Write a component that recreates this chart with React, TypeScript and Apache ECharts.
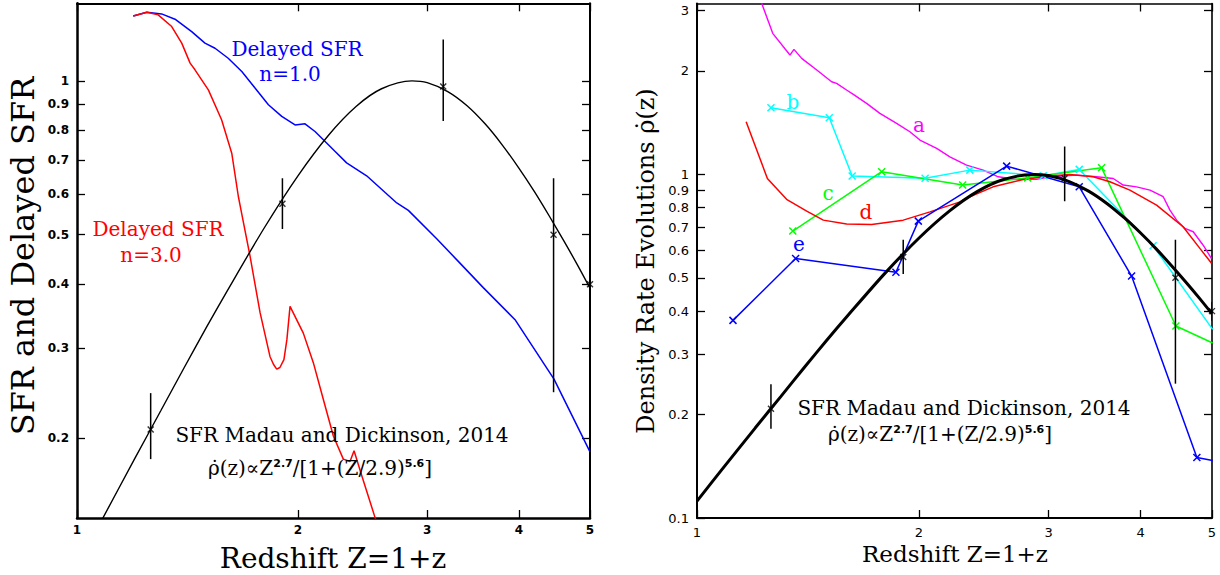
import React, { useEffect, useRef } from 'react';
import * as echarts from 'echarts';

// ---------- tick labels ----------
const xTicks = [1, 2, 3, 4, 5];
const yTicksLeft = [0.2, 0.3, 0.4, 0.5, 0.6, 0.7, 0.8, 0.9, 1];
const yTicksRight = [0.1, 0.2, 0.3, 0.4, 0.5, 0.6, 0.7, 0.8, 0.9, 1, 2, 3];

// ---------- Madau & Dickinson 2014 SFR (black curve) ----------
const sfrZ = [1.0, 1.08, 1.2, 1.3, 1.4, 1.5, 1.6, 1.8, 2.0, 2.2, 2.4, 2.6, 2.86, 3.0, 3.2, 3.4, 3.6, 3.8, 4.0, 4.2, 4.4, 4.6, 4.8, 5.0];
const sfrV = [0.112, 0.138, 0.183, 0.226, 0.275, 0.329, 0.387, 0.516, 0.652, 0.782, 0.891, 0.965, 1.0, 0.992, 0.953, 0.894, 0.823, 0.748, 0.675, 0.607, 0.544, 0.488, 0.438, 0.393];

// ---------- observed points with error bars ----------
const obsZ = [1.26, 1.905, 3.155, 4.46, 5.0];
const obsV = [0.208, 0.575, 0.975, 0.5, 0.4];
const obsLo = [0.182, 0.513, 0.835, 0.246, 0.375];
const obsHi = [0.245, 0.645, 1.205, 0.645, 0.425];

// ---------- left panel: delayed SFR n=1.0 (blue) ----------
const del1Z = [1.193, 1.245, 1.304, 1.36, 1.433, 1.494, 1.542, 1.607, 1.677, 1.748, 1.823, 1.901, 1.982, 2.045, 2.11, 2.166, 2.246, 2.33, 2.481, 2.727, 2.828, 3.091, 3.325, 3.577, 3.952, 4.466, 5.0];
const del1V = [1.339, 1.362, 1.352, 1.32, 1.248, 1.185, 1.158, 1.107, 1.043, 0.968, 0.898, 0.852, 0.82, 0.824, 0.796, 0.767, 0.728, 0.691, 0.652, 0.577, 0.558, 0.491, 0.44, 0.394, 0.341, 0.261, 0.188];

// ---------- left panel: delayed SFR n=3.0 (red) ----------
const del3Z = [1.193, 1.245, 1.29, 1.346, 1.389, 1.426, 1.448, 1.51, 1.574, 1.625, 1.659, 1.676, 1.721, 1.776, 1.832, 1.852, 1.871, 1.89, 1.914, 1.932, 1.951, 2.034, 2.099, 2.166, 2.235, 2.306, 2.355, 2.385, 2.443, 2.547, 2.6];
const del3V = [1.339, 1.362, 1.346, 1.277, 1.185, 1.083, 1.051, 0.96, 0.839, 0.722, 0.594, 0.551, 0.454, 0.352, 0.289, 0.279, 0.273, 0.275, 0.285, 0.312, 0.362, 0.321, 0.281, 0.238, 0.202, 0.182, 0.18, 0.189, 0.169, 0.14, 0.128];

// ---------- right panel series ----------
const aZ = [1.224, 1.267, 1.337, 1.354, 1.387, 1.454, 1.523, 1.547, 1.596, 1.63, 1.699, 1.771, 1.866, 1.945, 2.007, 2.115, 2.204, 2.322, 2.446, 2.564, 2.715, 2.89, 3.013, 3.275, 3.486, 3.672, 3.788, 3.95, 4.119, 4.293, 4.384, 4.477, 4.594, 4.715, 4.864, 4.993];
const aV = [3.146, 2.573, 2.225, 2.311, 2.176, 2.012, 1.86, 1.84, 1.76, 1.709, 1.609, 1.505, 1.408, 1.331, 1.259, 1.19, 1.125, 1.064, 1.029, 0.984, 0.967, 0.967, 0.984, 0.995, 0.984, 0.973, 0.931, 0.92, 0.9, 0.861, 0.787, 0.736, 0.696, 0.681, 0.622, 0.569];

const bZ = [1.26, 1.512, 1.624, 2.04, 2.346, 2.951, 3.302, 4.159, 5.01];
const bV = [1.563, 1.461, 0.989, 0.974, 1.029, 0.991, 1.034, 0.62, 0.354];

const cZ = [1.349, 1.781, 2.294, 2.81, 3.541, 4.467, 5.01];
const cV = [0.684, 1.018, 0.931, 0.977, 1.045, 0.362, 0.323];

const dZ = [1.166, 1.246, 1.323, 1.409, 1.484, 1.596, 1.726, 1.905, 2.071, 2.275, 2.346, 2.523, 2.771, 3.013, 3.207, 3.449, 3.634, 3.868, 4.205, 4.568, 4.814, 4.993];
const dV = [1.423, 0.973, 0.846, 0.782, 0.736, 0.717, 0.715, 0.736, 0.778, 0.832, 0.861, 0.92, 0.967, 0.989, 1.0, 0.984, 0.952, 0.9, 0.814, 0.704, 0.609, 0.551];

const eZ = [1.119, 1.361, 1.862, 1.997, 2.632, 3.302, 3.889, 4.769, 5.01];
const eV = [0.376, 0.569, 0.519, 0.731, 1.057, 0.92, 0.506, 0.15, 0.147];

const lg = Math.log10;
const XMARK = 'path://M0,0L10,10M0,10L10,0';
const SERIF = '"DejaVu Serif", serif';
const SANS = '"DejaVu Sans", sans-serif';

const pairs = (zs: number[], vs: number[], lastNoSymbol = false) =>
  zs.map((z, i) => {
    const value = [lg(z), lg(vs[i])];
    if (lastNoSymbol && i === zs.length - 1) return { value, symbol: 'none' };
    return { value };
  });

const fmt = (ticks: number[]) => (v: number) => {
  const t = ticks.find((tt) => Math.abs(lg(tt) - v) < 1e-6);
  return t === undefined ? '' : String(t);
};

function makeAxis(
  gridIndex: number,
  position: string,
  ticks: number[],
  min: number,
  max: number,
  showLabel: boolean,
  lineWidth: number,
  label: any
) {
  const vals = ticks.map(lg);
  return {
    type: 'value',
    gridIndex,
    position,
    min,
    max,
    axisLine: { show: true, onZero: false, lineStyle: { color: '#000', width: lineWidth } },
    axisTick: {
      show: true,
      inside: true,
      length: 8,
      customValues: vals,
      lineStyle: { color: '#000', width: 1.3 },
    },
    axisLabel: showLabel
      ? {
          show: true,
          customValues: vals,
          formatter: fmt(ticks),
          color: '#000',
          showMinLabel: true,
          showMaxLabel: true,
          hideOverlap: false,
          ...label,
        }
      : { show: false },
    splitLine: { show: false },
    minorTick: { show: false },
  };
}

const errorBars = (xi: number, yi: number) => ({
  type: 'custom',
  xAxisIndex: xi,
  yAxisIndex: yi,
  silent: true,
  clip: true,
  z: 6,
  data: obsZ.map((z, i) => [lg(z), lg(obsLo[i]), lg(obsHi[i])]),
  renderItem: (_p: any, api: any) => {
    const p1 = api.coord([api.value(0), api.value(1)]);
    const p2 = api.coord([api.value(0), api.value(2)]);
    return {
      type: 'line',
      shape: { x1: p1[0], y1: p1[1], x2: p2[0], y2: p2[1] },
      style: { stroke: '#000', lineWidth: 1.5 },
    };
  },
});

const obsMarks = (xi: number, yi: number) => ({
  type: 'scatter',
  xAxisIndex: xi,
  yAxisIndex: yi,
  silent: true,
  z: 7,
  symbol: XMARK,
  symbolSize: 6,
  itemStyle: { color: 'transparent', borderColor: '#000', borderWidth: 1.4 },
  data: obsZ.map((z, i) => [lg(z), lg(obsV[i])]),
});

const lineSeries = (
  xi: number,
  yi: number,
  data: any[],
  color: string,
  width: number,
  marks: boolean,
  z = 3,
  smooth: boolean | number = false
) => ({
  type: 'line',
  xAxisIndex: xi,
  yAxisIndex: yi,
  silent: true,
  clip: true,
  z,
  smooth,
  data,
  symbol: marks ? XMARK : 'none',
  showSymbol: marks,
  symbolSize: 7,
  lineStyle: { color, width },
  itemStyle: { color: 'transparent', borderColor: color, borderWidth: 1.5 },
  emphasis: { disabled: true },
});

const txt = (
  text: string,
  x: number,
  y: number,
  size: number,
  color: string,
  rotation = 0,
  family = SERIF
) => ({
  type: 'text',
  x,
  y,
  rotation,
  silent: true,
  z: 100,
  style: {
    text,
    fill: color,
    fontSize: size,
    fontFamily: family,
    align: 'center',
    verticalAlign: 'middle',
    textAlign: 'center',
    textVerticalAlign: 'middle',
  },
});

const formula = (x: number, y: number) => ({
  type: 'text',
  x,
  y,
  silent: true,
  z: 100,
  style: {
    text: '{m|ρ̇(z)∝Z}{s|2.7}{m|/[1+(Z/2.9)}{s|5.6}{m|]}',
    align: 'center',
    verticalAlign: 'middle',
    textAlign: 'center',
    textVerticalAlign: 'middle',
    rich: {
      m: { fontSize: 20, fontFamily: SERIF, fill: '#000', color: '#000' },
      s: {
        fontSize: 11,
        fontFamily: SANS,
        fontWeight: 'bold',
        fill: '#000',
        color: '#000',
        padding: [0, 0, 10, 0],
      },
    },
  },
});

export default function App() {
  const ref = useRef<HTMLDivElement>(null);

  useEffect(() => {
    if (!ref.current) return;
    const chart = echarts.init(ref.current, undefined, { renderer: 'svg' });

    const lX = [0, lg(5)];
    const lY = [lg(0.1396), lg(1.418)];
    const rX = [0, lg(5)];
    const rY = [-1, lg(3.143)];

    const leftXLabel = { fontFamily: SANS, fontWeight: 'bold', fontSize: 12, margin: 6 };
    const leftYLabel = { fontFamily: SANS, fontWeight: 'bold', fontSize: 12, margin: 8 };
    const rightXLabel = { fontFamily: SANS, fontSize: 13, margin: 8 };
    const rightYLabel = { fontFamily: SANS, fontSize: 13, margin: 8 };

    const option: any = {
      animation: false,
      backgroundColor: '#fff',
      grid: [
        { left: 77, top: 3.3, width: 513, height: 514.7, outerBoundsMode: 'none', containLabel: false },
        { left: 697, top: 3.5, width: 515, height: 514.5, outerBoundsMode: 'none', containLabel: false },
      ],
      xAxis: [
        makeAxis(0, 'bottom', xTicks, lX[0], lX[1], true, 2.5, leftXLabel),
        makeAxis(0, 'top', xTicks, lX[0], lX[1], false, 2, {}),
        makeAxis(1, 'bottom', xTicks, rX[0], rX[1], true, 2, rightXLabel),
        makeAxis(1, 'top', xTicks, rX[0], rX[1], false, 1.6, {}),
      ],
      yAxis: [
        makeAxis(0, 'left', yTicksLeft, lY[0], lY[1], true, 2.5, leftYLabel),
        makeAxis(0, 'right', yTicksLeft, lY[0], lY[1], false, 2, {}),
        makeAxis(1, 'left', yTicksRight, rY[0], rY[1], true, 2, rightYLabel),
        makeAxis(1, 'right', yTicksRight, rY[0], rY[1], false, 1.6, {}),
      ],
      series: [
        // left panel
        lineSeries(0, 0, pairs(del1Z, del1V), '#0000ff', 1.5, false, 3),
        lineSeries(0, 0, pairs(del3Z, del3V), '#ff0000', 1.5, false, 3),
        lineSeries(0, 0, pairs(sfrZ, sfrV), '#000000', 1.4, false, 4, 0.3),
        errorBars(0, 0),
        obsMarks(0, 0),
        // right panel
        lineSeries(2, 2, pairs(aZ, aV), '#ff00ff', 1.4, false, 3),
        lineSeries(2, 2, pairs(bZ, bV, true), '#00ffff', 1.5, true, 3),
        lineSeries(2, 2, pairs(cZ, cV, true), '#00ff00', 1.5, true, 3),
        lineSeries(2, 2, pairs(dZ, dV), '#ff0000', 1.5, false, 3),
        lineSeries(2, 2, pairs(eZ, eV, true), '#0000ff', 1.5, true, 3),
        lineSeries(2, 2, pairs(sfrZ, sfrV), '#000000', 3, false, 4, 0.3),
        errorBars(2, 2),
        obsMarks(2, 2),
      ],
      graphic: [
        // left panel texts
        txt('SFR and Delayed SFR', 23, 256, 32, '#000', Math.PI / 2),
        txt('Redshift Z=1+z', 333, 558, 28, '#000'),
        txt('Delayed SFR', 297, 49, 20, '#0000ff'),
        txt('n=1.0', 290, 74, 20, '#0000ff'),
        txt('Delayed SFR', 158, 229, 20, '#ff0000'),
        txt('n=3.0', 151, 255, 20, '#ff0000'),
        txt('SFR Madau and Dickinson, 2014', 342, 435, 20, '#000'),
        formula(320, 468),
        // right panel texts
        txt('Density Rate Evolutions ρ̇(z)', 646, 261, 24, '#000', Math.PI / 2),
        txt('Redshift Z=1+z', 955, 554, 23, '#000'),
        txt('a', 919, 125, 20, '#ff00ff'),
        txt('b', 793, 102, 20, '#00ffff'),
        txt('c', 828, 193, 20, '#00ff00'),
        txt('d', 866, 212, 20, '#ff0000'),
        txt('e', 799, 244, 20, '#0000ff'),
        txt('SFR Madau and Dickinson, 2014', 964, 408, 20, '#000'),
        formula(940, 434),
      ],
    };

    chart.setOption(option);
    return () => chart.dispose();
  }, []);

  return (
    <div
      ref={ref}
      style={{ position: 'fixed', left: 0, top: 0, width: 1220, height: 575, background: '#fff' }}
    />
  );
}
